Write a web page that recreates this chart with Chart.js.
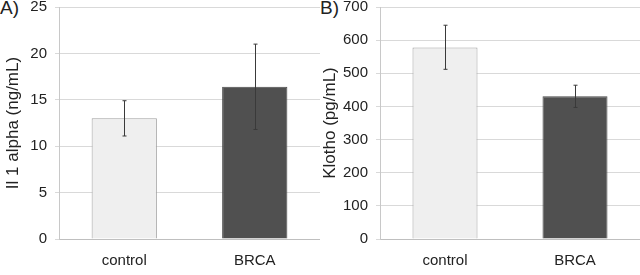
<!DOCTYPE html>
<html>
<head>
<meta charset="utf-8">
<script src="https://cdn.jsdelivr.net/npm/chart.js@4.4.0/dist/chart.umd.min.js"></script>
<style>
  html, body { margin: 0; padding: 0; background: #fff; }
  .wrap { position: relative; width: 640px; height: 275px; overflow: hidden; }
  .panel { position: absolute; top: -10px; width: 320px; height: 285px; }
  .tag { position: absolute; top: -3px; font: 19px "Liberation Sans", Arial, sans-serif; color: #222; background: #fff; padding-right: 1px; }
</style>
</head>
<body>
<div class="wrap">
  <div class="panel" style="left:0"><canvas id="chartA" width="320" height="285"></canvas></div>
  <div class="panel" style="left:320px"><canvas id="chartB" width="320" height="285"></canvas></div>
  <span class="tag" style="left:0">A)</span>
  <span class="tag" style="left:320px">B)</span>
</div>
<script>
// groups and values
const groups = ['control', 'BRCA'];
const il1Mean = [13.0, 16.4];
const il1Low = [11.1, 11.8];
const il1High = [14.9, 21.0];
const klothoMean = [578, 431];
const klothoLow = [512, 397];
const klothoHigh = [645, 464];
const barColors = ['#efefef', '#505050'];
const barBorders = ['#a0a0a0', '#4a4a4a'];

const font = "'Liberation Sans', Arial, sans-serif";

// draws error whiskers through the y scale
const errorBars = {
  id: 'errorBars',
  afterDatasetsDraw(chart, args, opts) {
    const { ctx, scales } = chart;
    const meta = chart.getDatasetMeta(0);
    ctx.save();
    ctx.strokeStyle = '#3a3a3a';
    ctx.lineWidth = 1;
    meta.data.forEach((bar, i) => {
      const x = Math.round(bar.x) + 0.5;
      const yLo = scales.y.getPixelForValue(opts.low[i]);
      const yHi = scales.y.getPixelForValue(opts.high[i]);
      ctx.beginPath();
      ctx.moveTo(x, yLo); ctx.lineTo(x, yHi);
      ctx.moveTo(x - 2, yLo); ctx.lineTo(x + 2, yLo);
      ctx.moveTo(x - 2, yHi); ctx.lineTo(x + 2, yHi);
      ctx.stroke();
    });
    ctx.restore();
  }
};

function makeChart(id, values, low, high, max, step, title, axisWidth, titlePad) {
  return new Chart(document.getElementById(id), {
    type: 'bar',
    data: {
      labels: groups,
      datasets: [{
        data: values,
        backgroundColor: barColors,
        borderColor: barBorders,
        borderWidth: 1,
        categoryPercentage: 1,
        barPercentage: 0.5
      }]
    },
    plugins: [errorBars],
    options: {
      responsive: false,
      animation: false,
      layout: { padding: { top: 0, bottom: -8, right: 0, left: 0 } },
      plugins: {
        legend: { display: false },
        tooltip: { enabled: false },
        errorBars: { low: low, high: high }
      },
      scales: {
        x: {
          grid: { display: false, drawTicks: false },
          border: { color: '#bfbfbf' },
          ticks: { color: '#222', font: { family: font, size: 15 }, padding: 13 }
        },
        y: {
          min: 0, max: max,
          afterFit: s => { s.width = axisWidth; },
          grid: { color: '#d9d9d9', tickLength: 4 },
          border: { color: '#c8c8c8' },
          ticks: { stepSize: step, color: '#222', font: { family: font, size: 15 }, padding: 8 },
          title: { display: true, text: title, color: '#222', font: { family: font, size: 17 }, padding: { top: titlePad, bottom: 0 } }
        }
      }
    }
  });
}

makeChart('chartA', il1Mean, il1Low, il1High, 25, 5, 'Il 1 alpha (ng/mL)', 59, 3);
makeChart('chartB', klothoMean, klothoLow, klothoHigh, 700, 100, 'Klotho (pg/mL)', 60, 0);
</script>
</body>
</html>
